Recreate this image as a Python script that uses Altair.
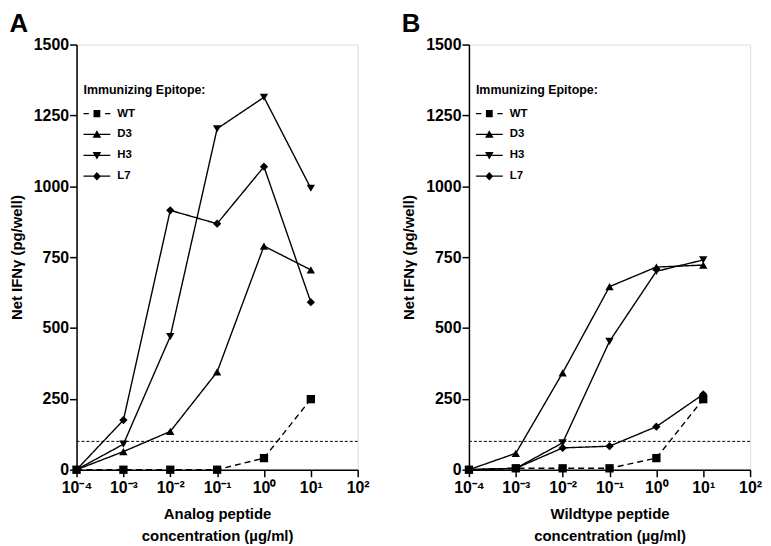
import altair as alt
import pandas as pd

FONT = "Liberation Sans"

# ---------------- data ----------------
conc = [1e-4, 1e-3, 1e-2, 1e-1, 1e0, 1e1]
epitopes = ["WT", "D3", "H3", "L7"]

analog_wt = [0, 0, 0, 0, 41, 249]
analog_d3 = [0, 64, 135, 345, 789, 705]
analog_h3 = [0, 90, 470, 1203, 1314, 993]
analog_l7 = [0, 175, 915, 868, 1069, 591]

wild_wt = [0, 5, 5, 5, 41, 249]
wild_d3 = [0, 58, 342, 646, 715, 722]
wild_h3 = [0, 5, 95, 453, 700, 740]
wild_l7 = [0, 5, 77, 83, 152, 266]

threshold = [100]

x_ticks = [1e-4, 1e-3, 1e-2, 1e-1, 1e0, 1e1, 1e2]
x_tick_labels = ["10⁻⁴", "10⁻³", "10⁻²", "10⁻¹", "10⁰", "10¹", "10²"]
y_ticks = [0, 250, 500, 750, 1000, 1250, 1500]

point_shapes = ["square", "triangle-up", "triangle-down", "diamond"]
line_dashes = [[6, 4], [1, 0], [1, 0], [1, 0]]
# legend symbols: connecting line drawn as thin filled bars + marker (all clockwise)
legend_paths = [
    "M-1,-0.07H-0.4V0.07H-1ZM1.4,-0.07H2V0.07H1.4ZM0.12,-0.4H0.88V0.4H0.12Z",
    "M-1,-0.07H2V0.07H-1ZM0.5,-0.48L0.98,0.38L0.02,0.38Z",
    "M-1,-0.07H2V0.07H-1ZM0.5,0.48L0.02,-0.38L0.98,-0.38Z",
    "M-1,-0.07H2V0.07H-1ZM0.5,-0.48L0.94,0L0.5,0.48L0.06,0Z",
]

# label expression built from the tick lists
label_expr = ""
for v, lab in zip(x_ticks[:-1], x_tick_labels[:-1]):
    label_expr += f"datum.value < {v * 3.0} ? '{lab}' : "
label_expr += f"'{x_tick_labels[-1]}'"


def panel(series, xtitle, letter, w):
    rows = []
    for ep, vals in zip(epitopes, series):
        for c, v in zip(conc, vals):
            rows.append({"conc": c, "val": v, "ep": ep})
    df = pd.DataFrame(rows)

    xscale = alt.Scale(type="log", domain=[1e-4, 1e2], nice=False)
    yscale = alt.Scale(domain=[0, 1500], nice=False)
    xaxis = alt.Axis(
        values=x_ticks, labelExpr=label_expr, title=xtitle, grid=False,
        tickSize=7, tickWidth=1.5, tickColor="black", domainColor="black",
        domainWidth=1.5, labelFont=FONT, labelFontSize=16, labelFontWeight="bold",
        labelColor="black", labelPadding=3, labelFlush=False, labelOverlap=False,
        titleFont=FONT, titleFontSize=15, titleFontWeight="bold", titleColor="black",
        titlePadding=11, titleLineHeight=22,
    )
    yaxis = alt.Axis(
        values=y_ticks, format="d", title="Net IFNγ (pg/well)", grid=False,
        tickSize=7, tickWidth=1.5, tickColor="black", domainColor="black",
        domainWidth=1.5, labelFont=FONT, labelFontSize=16, labelFontWeight="bold",
        labelColor="black", labelPadding=1, labelFlush=False, labelOverlap=False,
        titleFont=FONT, titleFontSize=15, titleFontWeight="bold", titleColor="black",
        titlePadding=9,
    )
    X = alt.X("conc:Q", scale=xscale, axis=xaxis)
    Y = alt.Y("val:Q", scale=yscale, axis=yaxis)

    base = alt.Chart(df)
    rule = alt.Chart(pd.DataFrame({"val": threshold})).mark_rule(
        color="black", strokeWidth=1, strokeDash=[3, 2]
    ).encode(y=Y)
    lines = base.mark_line(color="black", strokeWidth=1.4).encode(
        x=X, y=Y,
        strokeDash=alt.StrokeDash("ep:N", scale=alt.Scale(domain=epitopes, range=line_dashes), legend=None),
        detail="ep:N",
    )
    points = base.mark_point(filled=True, color="black", opacity=1, size=70).encode(
        x=X, y=Y,
        shape=alt.Shape("ep:N", scale=alt.Scale(domain=epitopes, range=point_shapes), legend=None),
    )
    legend_layer = base.transform_filter("false").mark_point(
        filled=True, color="black", opacity=1, size=324
    ).encode(
        x=X, y=Y,
        shape=alt.Shape(
            "ep:N",
            scale=alt.Scale(domain=epitopes, range=legend_paths),
            legend=alt.Legend(
                title="Immunizing Epitope:", orient="none", legendX=7, legendY=40,
                titleFont=FONT, titleFontSize=12.5, titleFontWeight="bold", titleColor="black",
                labelFont=FONT, labelFontSize=11.5, labelFontWeight="bold", labelColor="black",
                symbolSize=324, symbolFillColor="black", symbolStrokeWidth=0,
                symbolOpacity=1, labelOffset=16, rowPadding=6,
                titlePadding=8, padding=0,
            ),
        ),
    )
    return alt.layer(rule, lines, points, legend_layer).resolve_scale(
        shape="independent"
    ).properties(
        width=w, height=428,
        title=alt.TitleParams(letter, anchor="start", frame="bounds", font=FONT,
                              fontSize=26, fontWeight="bold", color="black", offset=0),
    )


panel_a = panel([analog_wt, analog_d3, analog_h3, analog_l7],
                ["Analog peptide", "concentration (µg/ml)"], "A", 283)
panel_b = panel([wild_wt, wild_d3, wild_h3, wild_l7],
                ["Wildtype peptide", "concentration (µg/ml)"], "B", 283)

chart = alt.hconcat(panel_a, panel_b, spacing=30).properties(padding=0).configure_view(
    stroke="black", strokeWidth=1
).configure(background="white")

chart.save("out.html", embed_options={"renderer": "svg", "actions": False})
